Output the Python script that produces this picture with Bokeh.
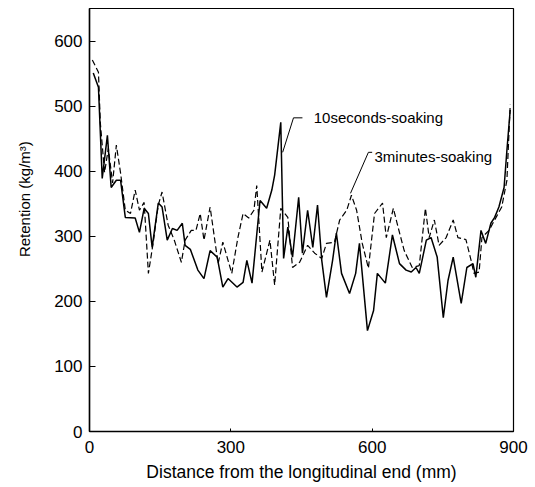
from bokeh.plotting import figure
from bokeh.models import Range1d, Label, FixedTicker
from bokeh.embed import file_html
from bokeh.resources import INLINE

# ---- data ----
x_10s = [8, 19, 27, 38, 46, 57, 66, 76, 97, 106, 116, 125, 133, 146, 154, 165, 176, 186, 197, 203,
         214, 230, 243, 256, 271, 283, 294, 313, 326, 334, 345, 362, 376, 387, 393, 406, 412, 421, 431, 444,
         452, 463, 474, 484, 493, 503, 516, 524, 535, 552, 565, 573, 590, 603, 611, 628, 643, 658, 672, 683,
         693, 700, 715, 725, 738, 751, 761, 772, 789, 801, 814, 820, 831, 841, 852, 860, 869, 880, 886, 893]
y_10s = [551, 529, 389, 455, 375, 386, 386, 329, 328, 306, 343, 335, 283, 351, 345, 294, 312, 309, 320, 286,
         280, 248, 235, 278, 268, 222, 235, 222, 229, 263, 228, 355, 343, 371, 394, 475, 266, 314, 268, 360,
         274, 340, 283, 348, 263, 206, 263, 305, 243, 212, 243, 289, 155, 186, 243, 228, 302, 258, 248, 245,
         252, 243, 294, 298, 268, 175, 232, 268, 197, 252, 258, 237, 309, 289, 320, 329, 345, 375, 432, 494]

x_3m = [6, 19, 23, 32, 40, 49, 57, 66, 76, 87, 97, 106, 116, 125, 135, 146, 154, 167, 180, 195,
        203, 216, 226, 235, 243, 256, 273, 283, 302, 315, 326, 338, 349, 355, 366, 383, 393, 406, 421, 431,
        446, 463, 478, 493, 503, 520, 531, 546, 556, 567, 579, 592, 605, 622, 630, 645, 655, 668, 685, 700,
        713, 721, 732, 742, 757, 772, 782, 799, 810, 816, 827, 833, 848, 863, 875, 886, 893]
y_3m = [571, 552, 474, 398, 435, 382, 440, 397, 340, 335, 371, 340, 352, 243, 289, 348, 368, 317, 294, 260,
        294, 309, 309, 335, 294, 345, 258, 291, 243, 298, 335, 328, 340, 378, 245, 294, 225, 343, 329, 252,
        260, 286, 274, 266, 289, 291, 325, 340, 363, 340, 289, 251, 335, 351, 298, 343, 314, 278, 252, 255,
        343, 298, 325, 286, 298, 325, 298, 295, 263, 243, 245, 298, 309, 329, 345, 386, 502]

x_ticks = [0, 300, 600, 900]
y_ticks = [0, 100, 200, 300, 400, 500, 600]
x_title = "Distance from the longitudinal end (mm)"
y_title = "Retention (kg/m\u00b3)"
label_10s = "10seconds-soaking"
label_3m = "3minutes-soaking"

FONT = "Liberation Sans"

p = figure(width=535, height=487, output_backend="svg", toolbar_location=None,
           x_range=Range1d(0, 900), y_range=Range1d(0, 650),
           min_border_left=89, min_border_right=22, min_border_top=8, min_border_bottom=56)
p.grid.visible = False
p.background_fill_color = "white"
p.border_fill_color = "white"
p.outline_line_color = "black"
p.outline_line_width = 1.2

for ax in (p.xaxis[0], p.yaxis[0]):
    ax.major_label_text_font = FONT
    ax.major_label_text_font_size = "17px"
    ax.major_label_text_color = "black"
    ax.axis_line_color = "black"
    ax.axis_line_width = 1.5
    ax.major_tick_out = 0
    ax.minor_tick_in = 0
    ax.minor_tick_out = 0
    ax.major_tick_line_color = "black"

p.xaxis.ticker = FixedTicker(ticks=x_ticks)
p.yaxis.ticker = FixedTicker(ticks=y_ticks)
p.xaxis.major_tick_in = 3
p.yaxis.major_tick_in = 6
p.yaxis.major_label_standoff = 7
p.xaxis.major_label_standoff = 9
p.xaxis.axis_label = x_title
p.xaxis.axis_label_text_font = FONT
p.xaxis.axis_label_text_font_size = "17.5px"
p.xaxis.axis_label_text_font_style = "normal"
p.xaxis.axis_label_text_color = "black"
p.xaxis.axis_label_standoff = 6

# y title: leading no-break spaces lift the visible text above the frame centre, as in the reference
p.yaxis.axis_label = "\u00a0" * 10 + y_title
p.yaxis.axis_label_text_font = FONT
p.yaxis.axis_label_text_font_size = "15px"
p.yaxis.axis_label_text_font_style = "normal"
p.yaxis.axis_label_text_color = "black"
p.yaxis.axis_label_standoff = 18

p.line(x_10s, y_10s, line_color="black", line_width=1.5)
p.line(x_3m, y_3m, line_color="black", line_width=1.2, line_dash="6 3")

# leader lines for the labels
lead_10s_x = [410, 433, 452]
lead_10s_y = [429, 482, 482]
lead_3m_x = [554, 592, 600]
lead_3m_y = [366, 429, 429]
p.line(lead_10s_x, lead_10s_y, line_color="black", line_width=1)
p.line(lead_3m_x, lead_3m_y, line_color="black", line_width=1)

p.add_layout(Label(x=476, y=483, text=label_10s, text_font=FONT, text_font_size="15px",
                   text_baseline="middle", text_align="left", text_color="black"))
p.add_layout(Label(x=605, y=423, text=label_3m, text_font=FONT, text_font_size="15px",
                   text_baseline="middle", text_align="left", text_color="black"))

open("out.html", "w").write(file_html(p, INLINE))
